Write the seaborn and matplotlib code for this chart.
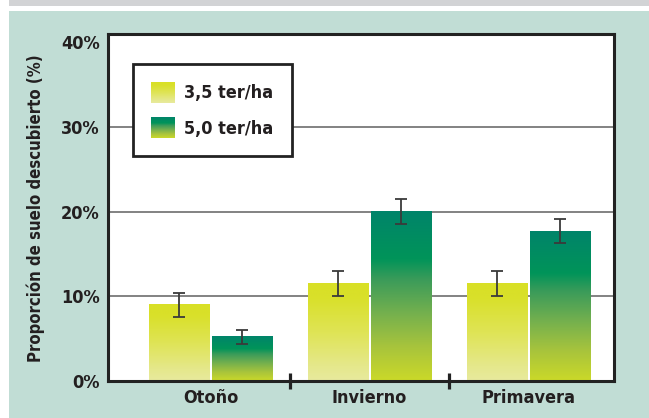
import os
import numpy as np
import pandas as pd
import matplotlib
matplotlib.use("Agg")
import matplotlib.pyplot as plt
import seaborn as sns
from matplotlib.colors import LinearSegmentedColormap
from matplotlib.patches import Rectangle
from matplotlib.legend_handler import HandlerBase
from matplotlib.image import BboxImage
from matplotlib.transforms import Bbox, TransformedBbox
from matplotlib.container import BarContainer
from matplotlib import font_manager as fm

# ---- data ----
seasons = ["Otoño", "Invierno", "Primavera"]
doses = ["3,5 ter/ha", "5,0 ter/ha"]
vals_35 = [9.0, 11.5, 11.5]
vals_50 = [5.2, 20.0, 17.7]
err_35 = [1.45, 1.45, 1.45]
err_50 = [0.85, 1.45, 1.45]
yticks = [0, 10, 20, 30, 40]
ytick_labels = ["0%", "10%", "20%", "30%", "40%"]
ylabel = "Proporción de suelo descubierto (%)"

df = pd.DataFrame({
    "season": seasons * 2,
    "dose": [doses[0]] * 3 + [doses[1]] * 3,
    "value": vals_35 + vals_50,
})

# ---- fonts: prefer a condensed bold face ----
files = fm.findSystemFonts()
base = {os.path.basename(f).lower(): f for f in files}
font_path = None
for cand in ["liberationsansnarrow-bold.ttf", "dejavusanscondensed-bold.ttf",
             "robotocondensed-bold.ttf", "opensans_condensed-bold.ttf",
             "liberationsans-bold.ttf"]:
    if cand in base:
        font_path = base[cand]
        break
if font_path is None:
    for f in files:
        n = os.path.basename(f).lower()
        if ("condensed" in n or "narrow" in n) and "bold" in n and "oblique" not in n and "italic" not in n:
            font_path = f
            break

sns.set_theme(style="white")
plt.rcParams["font.family"] = ["DejaVu Sans"]


def fp(size):
    if font_path:
        return fm.FontProperties(fname=font_path, size=size)
    return fm.FontProperties(family="DejaVu Sans", weight="bold", size=size)


TXT = "#231f20"

cmap_35 = LinearSegmentedColormap.from_list("c35", [
    (0.0, "#e8ea9e"), (0.15, "#e5e88c"), (0.5, "#dfe455"),
    (0.85, "#d9e02a"), (1.0, "#d9e026")])
cmap_50 = LinearSegmentedColormap.from_list("c50", [
    (0.0, "#cbd929"), (0.2, "#a8c43c"), (0.4, "#74b04e"),
    (0.6, "#3a9b5a"), (0.72, "#009459"), (1.0, "#00846a")])
cmaps = [cmap_35, cmap_50]

W, H = 649, 418
fig = plt.figure(figsize=(W / 100, H / 100), dpi=100)
fig.patch.set_facecolor("white")
fig.add_artist(Rectangle((9 / W, 0), 1 - 9 / W, (H - 11) / H, transform=fig.transFigure,
                         facecolor="#c1ddd5", edgecolor="none", zorder=-10))
fig.add_artist(Rectangle((9 / W, (H - 6) / H), 1 - 9 / W, 6 / H, transform=fig.transFigure,
                         facecolor="#d2d3d5", edgecolor="none", zorder=-10))

ax = fig.add_axes([108 / W, (H - 381) / H, (614 - 108) / W, (381 - 34) / H])
ax.set_facecolor("white")

sns.barplot(data=df, x="season", y="value", hue="dose", order=seasons, hue_order=doses,
            palette=["#d9e026", "#00846a"], width=0.8, gap=0.05, legend=False,
            errorbar=None, ax=ax, zorder=2)

grad = np.linspace(0, 1, 256).reshape(-1, 1)
errs = [err_35, err_50]
bar_conts = [c for c in ax.containers if isinstance(c, BarContainer)]
for j, cont in enumerate(bar_conts):
    xs, ys = [], []
    for bar in cont.patches:
        x0, y0 = bar.get_x(), bar.get_y()
        w, h = bar.get_width(), bar.get_height()
        bar.set_facecolor("none")
        bar.set_edgecolor("none")
        ax.imshow(grad, cmap=cmaps[j], origin="lower", aspect="auto",
                  extent=(x0, x0 + w, y0, y0 + h), zorder=2, interpolation="bicubic")
        xs.append(x0 + w / 2)
        ys.append(y0 + h)
    ax.errorbar(xs, ys, yerr=errs[j], fmt="none", ecolor="#3a3a3a", elinewidth=1.3,
                capsize=4.5, capthick=1.3, zorder=4)

ax.set_xlim(-0.645, 2.537)
ax.set_ylim(0, 41)

# ticks / grid
ax.set_yticks(yticks)
ax.set_yticklabels(ytick_labels)
for t in ax.get_yticklabels():
    t.set_fontproperties(fp(13))
    t.set_color(TXT)
for yv in yticks[1:-1]:
    ax.axhline(yv, color="#606060", lw=1.1, zorder=1)
ax.tick_params(axis="y", length=0, pad=6)
ax.tick_params(axis="x", which="major", length=0, pad=6)
for t in ax.get_xticklabels():
    t.set_fontproperties(fp(13))
    t.set_color(TXT)
ax.set_xticks([0.5, 1.5], minor=True)
ax.tick_params(axis="x", which="minor", direction="inout", length=11, width=2.3,
               color="#222222", bottom=True)
ax.set_xlabel("")
ax.set_ylabel(ylabel, fontproperties=fp(12), color=TXT)
ax.yaxis.set_label_coords(-0.1245, 0.497)

for s in ax.spines.values():
    s.set_visible(True)
    s.set_color("#222222")
    s.set_linewidth(2.2)
    s.set_zorder(5)


class GradHandler(HandlerBase):
    def __init__(self, cmap):
        super().__init__()
        self.cmap = cmap

    def create_artists(self, legend, orig_handle, xdescent, ydescent, width, height,
                       fontsize, trans):
        bb = TransformedBbox(Bbox.from_bounds(-xdescent, -ydescent, width, height), trans)
        img = BboxImage(bb, cmap=self.cmap, interpolation="bicubic", origin="lower")
        img.set_data(grad)
        return [img]


h1 = Rectangle((0, 0), 1, 1)
h2 = Rectangle((0, 0), 1, 1)
leg = ax.legend([h1, h2], doses, loc="upper left", bbox_to_anchor=(0.049, 0.914),
                borderaxespad=0, handler_map={h1: GradHandler(cmap_35), h2: GradHandler(cmap_50)},
                prop=fp(13),
                handlelength=1.3, handleheight=1.4, handletextpad=0.55, labelspacing=0.8,
                borderpad=1.0, fancybox=False, framealpha=1, edgecolor="#222222",
                facecolor="white")
leg.get_frame().set_linewidth(2.0)
leg.set_zorder(6)
for t in leg.get_texts():
    t.set_color(TXT)

fig.savefig("out.png", dpi=100)
